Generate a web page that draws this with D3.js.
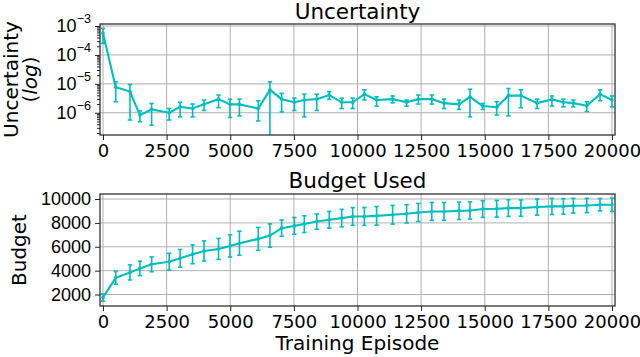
<!DOCTYPE html>
<html lang="en">
<head>
<meta charset="utf-8">
<script src="https://d3js.org/d3.v7.min.js"></script>
<style>
  * { margin: 0; padding: 0; }
  body { width: 640px; height: 357px; background: white; overflow: hidden; }
  svg { font-family: "DejaVu Sans", sans-serif; }
  .grid line { stroke: #b0b0b0; stroke-width: 1; }
  .tick text { fill: black; }
</style>
</head>
<body>
<script>
// data
const episodes = [0, 500, 1060, 1450, 1910, 2600, 3030, 3520, 3970, 4540, 4990, 5360, 6100, 6560, 7020, 7520, 7910, 8400, 8890, 9380, 9810,
  10270, 10750, 11380, 11930, 12390, 12920, 13400, 13990, 14420, 14920, 15470, 15930, 16420, 17060, 17640, 18090, 18480, 19010, 19530, 20000];
const uncMean = [5.6e-4, 7.6e-6, 5.4e-6, 8.3e-7, 1.3e-6, 1.0e-6, 1.6e-6, 1.4e-6, 1.95e-6, 2.95e-6, 1.95e-6, 1.95e-6, 1.4e-6, 6.2e-6, 2.95e-6, 2.3e-6, 2.75e-6, 2.95e-6, 4.1e-6, 2.3e-6, 2.3e-6,
  4.4e-6, 2.75e-6, 2.95e-6, 2.3e-6, 2.95e-6, 2.95e-6, 2.15e-6, 1.95e-6, 3.55e-6, 1.7e-6, 1.55e-6, 3.9e-6, 3.9e-6, 2.15e-6, 2.9e-6, 2.3e-6, 2.15e-6, 1.75e-6, 4.4e-6, 2.75e-6];
const uncLow = [2.5e-4, 2.4e-6, 5.6e-7, 4.9e-7, 3.7e-7, 5.6e-7, 7.2e-7, 7.2e-7, 1.2e-6, 1.5e-6, 6.9e-7, 7.8e-7, 5.2e-7, 1e-9, 1.07e-6, 1.2e-6, 7.2e-7, 1.2e-6, 2.9e-6, 1.4e-6, 1.4e-6,
  2.75e-6, 1.7e-6, 2.2e-6, 1.7e-6, 2.0e-6, 2.0e-6, 1.4e-6, 1.3e-6, 7.2e-7, 1.3e-6, 8.3e-7, 7.8e-7, 1.5e-6, 1.4e-6, 1.7e-6, 1.6e-6, 1.6e-6, 1.1e-6, 2.6e-6, 1.6e-6];
const uncHigh = [8.3e-4, 1.17e-5, 9.5e-6, 1.15e-6, 2.1e-6, 1.4e-6, 2.3e-6, 2.0e-6, 2.75e-6, 4.1e-6, 2.95e-6, 2.95e-6, 2.6e-6, 1.17e-5, 4.7e-6, 3.2e-6, 4.4e-6, 4.4e-6, 5.4e-6, 3.2e-6, 3.2e-6,
  6.2e-6, 3.55e-6, 3.8e-6, 2.75e-6, 4.1e-6, 4.1e-6, 2.95e-6, 2.75e-6, 6.5e-6, 2.1e-6, 2.4e-6, 6.9e-6, 6.2e-6, 2.95e-6, 3.8e-6, 2.95e-6, 2.75e-6, 2.4e-6, 6.2e-6, 3.8e-6];
const budgetMean = [1750, 3400, 3850, 4190, 4530, 4750, 5030, 5370, 5650, 5820, 6070, 6300, 6660, 6940, 7560, 7750, 7900, 8110, 8260, 8400, 8540,
  8540, 8590, 8680, 8760, 8870, 8960, 8960, 9010, 9040, 9160, 9180, 9240, 9240, 9330, 9380, 9380, 9440, 9460, 9520, 9520];
const budgetStd = [300, 530, 630, 600, 620, 700, 740, 790, 840, 880, 930, 1000, 960, 980, 680, 700, 700, 640, 700, 730, 740,
  750, 780, 780, 770, 760, 750, 750, 730, 720, 700, 700, 700, 680, 680, 680, 650, 620, 600, 520, 560];
const xTicks = [0, 2500, 5000, 7500, 10000, 12500, 15000, 17500, 20000];
const uncTicks = [1e-6, 1e-5, 1e-4, 1e-3];
const budgetTicks = [2000, 4000, 6000, 8000, 10000];

const W = 640, H = 357;
const color = '#00bfbf';
const left = 100, right = 615;
const svg = d3.select('body').append('svg').attr('width', W).attr('height', H);

const x = d3.scaleLinear().domain([-118, 20118]).range([left, right]);

function panel(top, bottom, y, yTicks, fmt, lo, hi, mid, id, minor) {
  const g = svg.append('g');
  svg.append('clipPath').attr('id', id).append('rect')
     .attr('x', left).attr('y', top).attr('width', right - left).attr('height', bottom - top);

  // grid
  const grid = g.append('g').attr('class', 'grid');
  grid.selectAll('.gx').data(xTicks).enter().append('line')
      .attr('x1', d => x(d)).attr('x2', d => x(d)).attr('y1', top).attr('y2', bottom);
  grid.selectAll('.gy').data(yTicks).enter().append('line')
      .attr('x1', left).attr('x2', right).attr('y1', d => y(d)).attr('y2', d => y(d));

  // axes
  const xa = g.append('g').attr('transform', `translate(0,${bottom})`)
     .call(d3.axisBottom(x).tickValues(xTicks).tickSize(5).tickPadding(3).tickFormat(d => String(d)));
  xa.selectAll('text').attr('font-size', 18).attr('dy', '0.76em').attr('font-family', 'DejaVu Sans');
  const ya = g.append('g').attr('transform', `translate(${left},0)`)
     .call(d3.axisLeft(y).tickValues(yTicks).tickSize(5).tickPadding(4).tickFormat(''));
  ya.selectAll('.tick text').each(function(d) { fmt(d3.select(this), d); });
  if (minor) {
    g.append('g').attr('transform', `translate(${left},0)`)
     .call(d3.axisLeft(y).tickValues(minor).tickSize(3).tickFormat(''))
     .select('.domain').remove();
  }
  g.selectAll('.domain').remove();
  g.selectAll('.tick line').attr('stroke', '#222');

  // error bars + line
  const data = episodes.map((e, i) => ({ e, m: mid[i], lo: lo[i], hi: hi[i] }));
  const plot = g.append('g').attr('clip-path', `url(#${id})`);
  const eb = plot.selectAll('.eb').data(data).enter().append('g');
  eb.append('line').attr('x1', d => x(d.e)).attr('x2', d => x(d.e))
    .attr('y1', d => y(Math.max(d.lo, y.domain()[0]))).attr('y2', d => y(d.hi))
    .attr('stroke', color).attr('stroke-width', 1.6);
  [d => d.lo, d => d.hi].forEach(acc => {
    eb.append('line').attr('x1', d => x(d.e) - 2.2).attr('x2', d => x(d.e) + 2.2)
      .attr('y1', d => y(Math.max(acc(d), y.domain()[0]))).attr('y2', d => y(Math.max(acc(d), y.domain()[0])))
      .attr('stroke', color).attr('stroke-width', 1.6)
      .attr('display', d => acc(d) < y.domain()[0] ? 'none' : null);
  });
  plot.append('path').datum(data)
      .attr('d', d3.line().x(d => x(d.e)).y(d => y(d.m)))
      .attr('fill', 'none').attr('stroke', color).attr('stroke-width', 2.1);
  plot.selectAll('.pt').data(data).enter().append('circle')
      .attr('cx', d => x(d.e)).attr('cy', d => y(d.m)).attr('r', 1.8).attr('fill', color);

  // frame
  g.append('rect').attr('x', left).attr('y', top).attr('width', right - left).attr('height', bottom - top)
   .attr('fill', 'none').attr('stroke', '#222').attr('stroke-width', 1.2);
}

// top panel: uncertainty, log scale
const yU = d3.scaleLog().domain([Math.pow(10, -6.77), Math.pow(10, -2.93)]).range([135, 24]);
const minorU = [];
[-7, -6, -5, -4, -3].forEach(k => { for (let m = 2; m <= 9; m++) { const v = m * Math.pow(10, k); if (v > yU.domain()[0] && v < yU.domain()[1]) minorU.push(v); } });
panel(24, 135, yU, uncTicks, (t, d) => {
  t.attr('font-size', 18).attr('dy', '0.32em');
  t.append('tspan').text('10');
  t.append('tspan').attr('font-size', 12.6).attr('dy', '-0.75em').text('\u2212' + Math.round(-Math.log10(d)));
}, uncLow, uncHigh, uncMean, 'clipU', minorU);

// bottom panel: budget
const yB = d3.scaleLinear().domain([1040, 10420]).range([306, 194]);
panel(194, 306, yB, budgetTicks, (t, d) => {
  t.attr('font-size', 18).attr('dy', '0.32em').text(String(d));
}, budgetMean.map((m, i) => m - budgetStd[i]), budgetMean.map((m, i) => m + budgetStd[i]), budgetMean, 'clipB', null);

// titles and labels
svg.append('text').attr('x', 357.5).attr('y', 18.5).attr('text-anchor', 'middle').attr('font-size', 21.5).text('Uncertainty');
svg.append('text').attr('x', 357.5).attr('y', 188).attr('text-anchor', 'middle').attr('font-size', 21.5).text('Budget Used');
svg.append('text').attr('x', 357.5).attr('y', 350).attr('text-anchor', 'middle').attr('font-size', 20).text('Training Episode');
svg.append('text').attr('transform', 'translate(17.5,79.5) rotate(-90)').attr('text-anchor', 'middle').attr('font-size', 20).text('Uncertainty');
const lg = svg.append('text').attr('transform', 'translate(37,79.5) rotate(-90)').attr('text-anchor', 'middle').attr('font-size', 20);
lg.append('tspan').text('(');
lg.append('tspan').attr('font-style', 'italic').text('log');
lg.append('tspan').text(')');
svg.append('text').attr('transform', 'translate(26,250) rotate(-90)').attr('text-anchor', 'middle').attr('font-size', 20).text('Budget');
</script>
</body>
</html>
